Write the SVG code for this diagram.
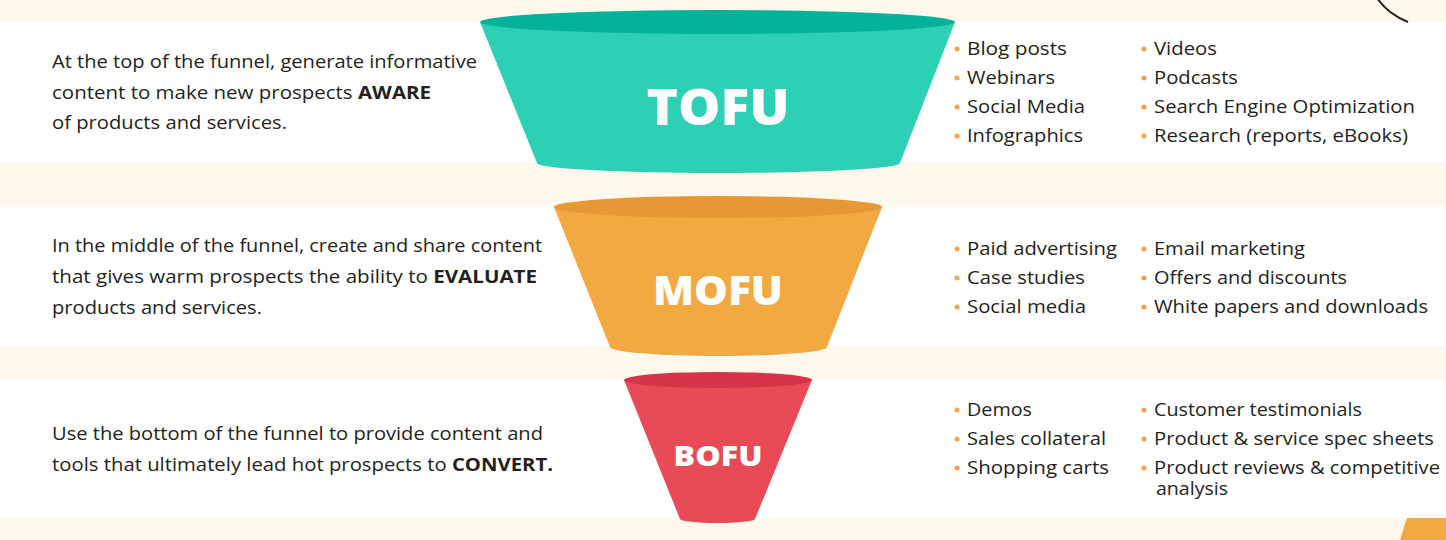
<svg xmlns="http://www.w3.org/2000/svg" width="1446" height="540" viewBox="0 0 1446 540">
<style>
.band{fill:#ffffff}
.p{font-family:"Open Sans","Liberation Sans",sans-serif;font-size:17.5px;fill:#231f20}
.p tspan.b{font-weight:700}
.li{font-family:"Open Sans","Liberation Sans",sans-serif;font-size:17.5px;fill:#231f20}
.dot{fill:#f5a24a}
.ttl{font-family:"Open Sans","Liberation Sans",sans-serif;font-weight:800;fill:#ffffff;text-anchor:middle}
</style>
<rect x="0" y="0" width="1446" height="540" fill="#fef9ec"/>
<rect class="band" x="0" y="22" width="1446" height="140"/>
<rect class="band" x="0" y="207" width="1446" height="139"/>
<rect class="band" x="0" y="380" width="1446" height="138"/>
<path d="M1377,-2 Q1388,14 1408,22" fill="none" stroke="#222222" stroke-width="2"/>
<path d="M1407,518 L1446,518 L1446,540 L1400,540 Z" fill="#f2a941"/>

<g id="tofu">
<path d="M480,22 L537,163 A181.5,10 0 0 0 900,163 L955,22 Z" fill="#2dd0b5"/>
<ellipse cx="717.5" cy="22" rx="237.5" ry="12" fill="#04b29a"/>
<text class="ttl" x="718" y="125" font-size="49" textLength="143" lengthAdjust="spacingAndGlyphs">TOFU</text>
</g>
<g id="mofu">
<path d="M554,207 L610,347 A108.5,9 0 0 0 827,347 L882,207 Z" fill="#f2a941"/>
<ellipse cx="718" cy="207" rx="164" ry="11" fill="#e69835"/>
<text class="ttl" x="718" y="305" font-size="40" textLength="130" lengthAdjust="spacingAndGlyphs">MOFU</text>
</g>
<g id="bofu">
<path d="M624,380 L680,519 A37.5,4 0 0 0 755,519 L812,380 Z" fill="#e84b55"/>
<ellipse cx="718" cy="380" rx="94" ry="8" fill="#d63548"/>
<text class="ttl" x="718" y="466" font-size="28" textLength="89" lengthAdjust="spacingAndGlyphs">BOFU</text>
</g>

<g id="tofu-desc">
<text class="p" x="52" y="68" textLength="425" lengthAdjust="spacingAndGlyphs">At the top of the funnel, generate informative</text>
<text class="p" x="52" y="99" textLength="379" lengthAdjust="spacingAndGlyphs">content to make new prospects <tspan class="b">AWARE</tspan></text>
<text class="p" x="52" y="129" textLength="235" lengthAdjust="spacingAndGlyphs">of products and services.</text>
</g>
<g id="mofu-desc">
<text class="p" x="52" y="252" textLength="490" lengthAdjust="spacingAndGlyphs">In the middle of the funnel, create and share content</text>
<text class="p" x="52" y="283" textLength="485" lengthAdjust="spacingAndGlyphs">that gives warm prospects the ability to <tspan class="b">EVALUATE</tspan></text>
<text class="p" x="52" y="314" textLength="210" lengthAdjust="spacingAndGlyphs">products and services.</text>
</g>
<g id="bofu-desc">
<text class="p" x="52" y="440" textLength="491" lengthAdjust="spacingAndGlyphs">Use the bottom of the funnel to provide content and</text>
<text class="p" x="52" y="471" textLength="501" lengthAdjust="spacingAndGlyphs">tools that ultimately lead hot prospects to <tspan class="b">CONVERT.</tspan></text>
</g>

<g id="tofu-list">
<circle class="dot" cx="957" cy="49" r="2.5"/><text class="li" x="967" y="55" textLength="100" lengthAdjust="spacingAndGlyphs">Blog posts</text>
<circle class="dot" cx="957" cy="78" r="2.5"/><text class="li" x="967" y="84" textLength="88" lengthAdjust="spacingAndGlyphs">Webinars</text>
<circle class="dot" cx="957" cy="107" r="2.5"/><text class="li" x="967" y="113" textLength="118" lengthAdjust="spacingAndGlyphs">Social Media</text>
<circle class="dot" cx="957" cy="136" r="2.5"/><text class="li" x="967" y="142" textLength="116" lengthAdjust="spacingAndGlyphs">Infographics</text>
<circle class="dot" cx="1144" cy="49" r="2.5"/><text class="li" x="1154" y="55" textLength="63" lengthAdjust="spacingAndGlyphs">Videos</text>
<circle class="dot" cx="1144" cy="78" r="2.5"/><text class="li" x="1154" y="84" textLength="84" lengthAdjust="spacingAndGlyphs">Podcasts</text>
<circle class="dot" cx="1144" cy="107" r="2.5"/><text class="li" x="1154" y="113" textLength="261" lengthAdjust="spacingAndGlyphs">Search Engine Optimization</text>
<circle class="dot" cx="1144" cy="136" r="2.5"/><text class="li" x="1154" y="142" textLength="254" lengthAdjust="spacingAndGlyphs">Research (reports, eBooks)</text>
</g>
<g id="mofu-list">
<circle class="dot" cx="957" cy="249" r="2.5"/><text class="li" x="967" y="255" textLength="150" lengthAdjust="spacingAndGlyphs">Paid advertising</text>
<circle class="dot" cx="957" cy="278" r="2.5"/><text class="li" x="967" y="284" textLength="118" lengthAdjust="spacingAndGlyphs">Case studies</text>
<circle class="dot" cx="957" cy="307" r="2.5"/><text class="li" x="967" y="313" textLength="119" lengthAdjust="spacingAndGlyphs">Social media</text>
<circle class="dot" cx="1144" cy="249" r="2.5"/><text class="li" x="1154" y="255" textLength="151" lengthAdjust="spacingAndGlyphs">Email marketing</text>
<circle class="dot" cx="1144" cy="278" r="2.5"/><text class="li" x="1154" y="284" textLength="193" lengthAdjust="spacingAndGlyphs">Offers and discounts</text>
<circle class="dot" cx="1144" cy="307" r="2.5"/><text class="li" x="1154" y="313" textLength="274" lengthAdjust="spacingAndGlyphs">White papers and downloads</text>
</g>
<g id="bofu-list">
<circle class="dot" cx="957" cy="410" r="2.5"/><text class="li" x="967" y="416" textLength="65" lengthAdjust="spacingAndGlyphs">Demos</text>
<circle class="dot" cx="957" cy="439" r="2.5"/><text class="li" x="967" y="445" textLength="139" lengthAdjust="spacingAndGlyphs">Sales collateral</text>
<circle class="dot" cx="957" cy="468" r="2.5"/><text class="li" x="967" y="474" textLength="142" lengthAdjust="spacingAndGlyphs">Shopping carts</text>
<circle class="dot" cx="1144" cy="410" r="2.5"/><text class="li" x="1154" y="416" textLength="208" lengthAdjust="spacingAndGlyphs">Customer testimonials</text>
<circle class="dot" cx="1144" cy="439" r="2.5"/><text class="li" x="1154" y="445" textLength="280" lengthAdjust="spacingAndGlyphs">Product &amp; service spec sheets</text>
<circle class="dot" cx="1144" cy="468" r="2.5"/><text class="li"><tspan x="1154" y="474" textLength="286" lengthAdjust="spacingAndGlyphs">Product reviews &amp; competitive</tspan><tspan x="1156" y="495" textLength="72" lengthAdjust="spacingAndGlyphs">analysis</tspan></text>
</g>
</svg>
